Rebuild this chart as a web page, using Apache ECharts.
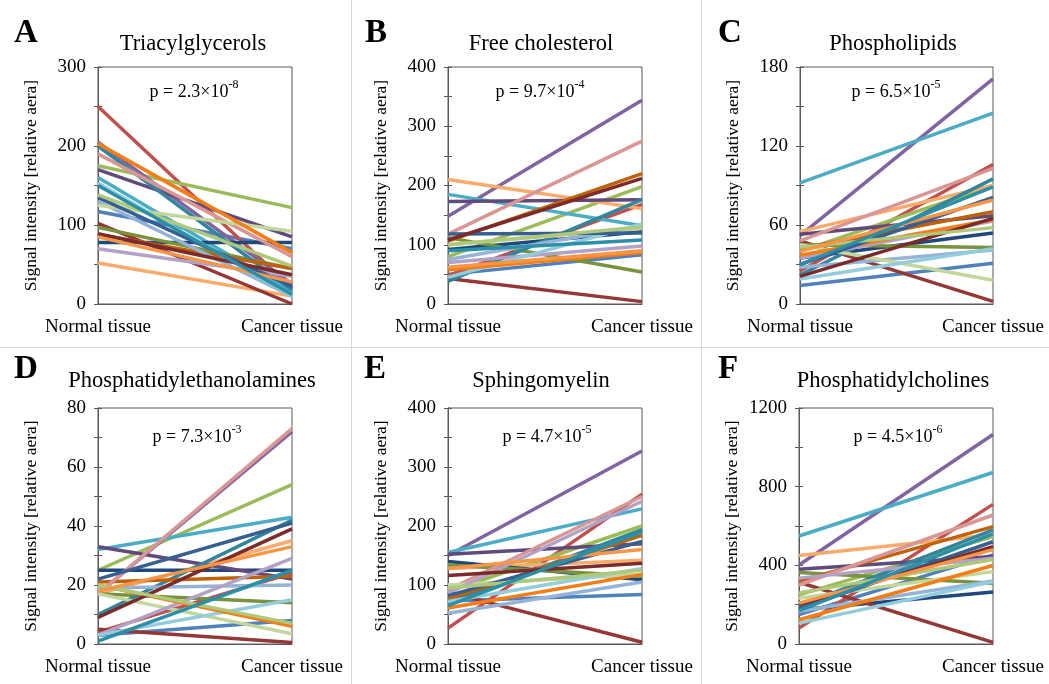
<!DOCTYPE html>
<html>
<head>
<meta charset="utf-8">
<script src="https://cdn.jsdelivr.net/npm/echarts@6/dist/echarts.min.js"></script>
<style>
  html, body { margin: 0; padding: 0; background: #fff; }
  #chart { width: 1049px; height: 684px; }
</style>
</head>
<body>
<div id="chart"></div>
<script>
const categories = ['Normal tissue', 'Cancer tissue']

// one colour per sample, same sample in every panel
const sampleColors = [
  '#4F81BD', '#C0504D', '#9BBB59', '#8064A2', '#4BACC6', '#F9AB6B',
  '#1F497D', '#953735', '#77933C', '#604A7B', '#31859C', '#C0610B',
  '#95B3D7', '#D99694', '#C3D69B', '#B3A2C7', '#93CDDD', '#F47D16',
  '#376092', '#7B2B2A', '#AFC97A', '#F79646', '#2C8FA8',
]

const normalA = [117, 250, 175, 205, 160, 52, 78, 102, 97, 170, 200, 88, 130, 190, 125, 70, 153, 203, 135, 89, 138, 85, 150]
const cancerA = [70, 20, 122, 25, 15, 10, 78, 0, 45, 85, 18, 45, 10, 60, 92, 35, 10, 65, 22, 37, 48, 28, 12]

const normalB = [50, 48, 80, 148, 185, 210, 92, 43, 112, 173, 38, 106, 75, 118, 100, 70, 45, 58, 118, 108, 100, 62, 90]
const cancerB = [83, 168, 198, 344, 132, 161, 122, 4, 54, 176, 176, 220, 132, 275, 128, 98, 135, 87, 120, 212, 130, 90, 108]

const normalC = [14, 25, 40, 52, 92, 55, 35, 48, 45, 53, 22, 42, 28, 48, 45, 35, 19, 37, 30, 21, 43, 40, 30]
const cancerC = [31, 106, 90, 171, 145, 90, 54, 2, 43, 67, 95, 70, 41, 103, 18, 63, 42, 64, 81, 65, 58, 79, 89]

const normalD = [3, 4, 25, 17, 32, 17, 25, 5, 17, 33, 10, 21, 19, 17, 17, 3, 3, 20, 22, 9, 20, 18, 1]
const cancerD = [8, 24, 54, 72, 43, 35, 25, 0.5, 14, 22, 42, 23, 20, 73, 3.5, 29, 15, 6, 41, 39, 7, 33, 25]

const normalE = [73, 27, 89, 150, 155, 128, 140, 88, 134, 152, 70, 76, 52, 92, 100, 86, 72, 61, 82, 116, 95, 128, 65]
const cancerE = [84, 254, 200, 327, 229, 142, 109, 3, 115, 170, 194, 184, 105, 250, 118, 242, 128, 118, 174, 137, 125, 160, 190]

const normalF = [149, 81, 250, 402, 549, 450, 174, 314, 363, 380, 191, 320, 166, 300, 233, 335, 106, 123, 180, 200, 260, 208, 170]
const cancerF = [453, 710, 546, 1065, 872, 555, 264, 8, 309, 445, 580, 597, 320, 656, 368, 436, 318, 399, 520, 495, 430, 480, 560]

const panelLetters = ['A', 'B', 'C', 'D', 'E', 'F']
const panelTitles = ['Triacylglycerols', 'Free cholesterol', 'Phospholipids',
  'Phosphatidylethanolamines', 'Sphingomyelin', 'Phosphatidylcholines']
const pMantissa = ['2.3', '9.7', '6.5', '7.3', '4.7', '4.5']
const pExponent = ['-8', '-4', '-5', '-3', '-5', '-6']
const yMax = [300, 400, 180, 80, 400, 1200]
const yMinorStep = [50, 50, 30, 10, 50, 200]
const yLabelStep = [100, 100, 60, 20, 100, 400]
const normals = [normalA, normalB, normalC, normalD, normalE, normalF]
const cancers = [cancerA, cancerB, cancerC, cancerD, cancerE, cancerF]

// layout of the six plot boxes
const boxes = [
  { left: 98, top: 67, width: 194, height: 237 },
  { left: 448, top: 67, width: 194, height: 237 },
  { left: 800, top: 67, width: 193, height: 237 },
  { left: 98, top: 408, width: 194, height: 236 },
  { left: 448, top: 408, width: 194, height: 236 },
  { left: 799, top: 408, width: 194, height: 236 },
]
const letterPos = [[26, 33], [376, 33], [730, 33], [26, 369], [375, 369], [728, 369]]
const titlePos = [[193, 44], [541, 44], [893, 44], [192, 381], [541, 381], [893, 381]]
const pPos = [[194, 90], [540, 90], [896, 90], [197, 435], [547, 435], [898, 435]]

const serif = '"Liberation Serif", "Times New Roman", serif'
const axisColor = '#595959'

const grid = []
const xAxis = []
const yAxis = []
const series = []
const graphic = [
  { type: 'line', shape: { x1: 351.5, y1: 0, x2: 351.5, y2: 684 }, style: { stroke: '#d9d9d9', lineWidth: 1 } },
  { type: 'line', shape: { x1: 701.5, y1: 0, x2: 701.5, y2: 684 }, style: { stroke: '#d9d9d9', lineWidth: 1 } },
  { type: 'line', shape: { x1: 0, y1: 347.5, x2: 1049, y2: 347.5 }, style: { stroke: '#d9d9d9', lineWidth: 1 } },
]

boxes.forEach((b, i) => {
  grid.push({
    left: b.left, top: b.top, width: b.width, height: b.height,
    show: true, borderColor: axisColor, borderWidth: 1,
    outerBoundsMode: 'none',
  })
  xAxis.push({
    type: 'category',
    gridIndex: i,
    data: categories,
    boundaryGap: false,
    axisLine: { lineStyle: { color: axisColor } },
    axisTick: { show: false },
    axisLabel: { color: '#000', fontFamily: serif, fontSize: 19, margin: 14 },
  })
  const step = yLabelStep[i]
  yAxis.push({
    type: 'value',
    gridIndex: i,
    min: 0,
    max: yMax[i],
    interval: yMinorStep[i],
    name: 'Signal intensity [relative aera]',
    nameLocation: 'middle',
    nameGap: 58,
    nameTextStyle: { color: '#000', fontFamily: serif, fontSize: 17.5 },
    axisLine: { show: true, lineStyle: { color: axisColor } },
    axisTick: { show: true, length: 4, lineStyle: { color: axisColor } },
    splitLine: { show: false },
    axisLabel: {
      color: '#000', fontFamily: serif, fontSize: 19, margin: 12,
      formatter: v => (v % step === 0 ? String(v) : ''),
    },
  })
  // second axis only for the inner half of the crossing tick marks
  yAxis.push({
    type: 'value',
    gridIndex: i,
    position: 'left',
    min: 0,
    max: yMax[i],
    interval: yMinorStep[i],
    axisLine: { show: true, lineStyle: { color: axisColor } },
    axisTick: { show: true, inside: true, length: 4, lineStyle: { color: axisColor } },
    axisLabel: { show: false },
    splitLine: { show: false },
  })
  normals[i].forEach((n, k) => {
    series.push({
      type: 'line',
      xAxisIndex: i,
      yAxisIndex: i * 2,
      data: [n, cancers[i][k]],
      symbol: 'none',
      silent: true,
      color: sampleColors[k],
      lineStyle: { width: 3.5 },
    })
  })
  graphic.push({
    type: 'text', x: letterPos[i][0], y: letterPos[i][1],
    style: { text: panelLetters[i], font: 'bold 33px ' + serif, fill: '#000', textAlign: 'center', textVerticalAlign: 'middle' },
  })
  graphic.push({
    type: 'text', x: titlePos[i][0], y: titlePos[i][1],
    style: { text: panelTitles[i], font: '22.5px ' + serif, fill: '#000', textAlign: 'center', textVerticalAlign: 'middle' },
  })
  graphic.push({
    type: 'text', x: pPos[i][0], y: pPos[i][1],
    style: {
      text: '{m|p = ' + pMantissa[i] + '×10}{s|' + pExponent[i] + '}',
      textAlign: 'center', textVerticalAlign: 'middle', fill: '#000',
      rich: {
        m: { fontFamily: serif, fontSize: 18, lineHeight: 22, verticalAlign: 'bottom' },
        s: { fontFamily: serif, fontSize: 12, lineHeight: 22, verticalAlign: 'top', padding: [0, 0, 7, 0] },
      },
    },
  })
})

const chart = echarts.init(document.getElementById('chart'))
chart.setOption({
  animation: false,
  backgroundColor: '#fff',
  grid,
  xAxis,
  yAxis,
  series,
  graphic,
})
</script>
</body>
</html>
